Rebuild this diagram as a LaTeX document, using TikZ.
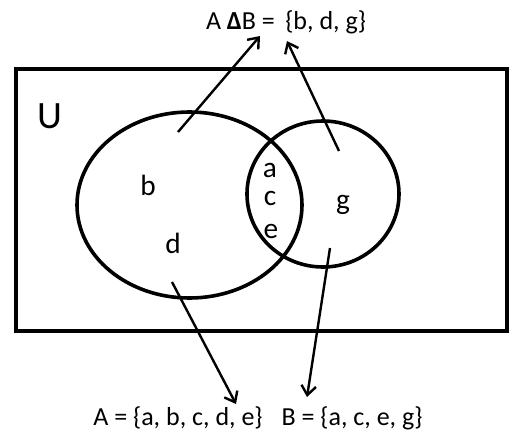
\documentclass[tikz,border=0pt]{standalone}
\usepackage{fontspec}
\setmainfont{Carlito}
\usetikzlibrary{arrows.meta,positioning}
\tikzset{
  univbox/.style={draw=black, line width=3pt},
  setline/.style={draw=black, line width=2.7pt},
  elem/.style={font=\fontsize{22}{24}\selectfont, inner sep=0pt},
  setlabel/.style={font=\fontsize{19.5}{22}\selectfont, inner sep=1pt},
  pointer/.style={-{Straight Barb[length=7pt,width=11pt]}, line width=1.8pt},
}
\begin{document}
\begin{tikzpicture}[x=0.75pt, y=-0.75pt]
  \useasboundingbox (0,0) rectangle (519,447);
  % universe and the two sets
  \draw[univbox] (15.5,68.5) rectangle (507,331);
  \draw[setline] (189.5,205) ellipse [x radius=112.5, y radius=93];
  \draw[setline] (323,194) ellipse [x radius=76, y radius=73];
  \node[font=\fontsize{29}{31}\selectfont, inner sep=0pt] (univ) at (50,116) {U};
  % elements
  \node[elem] (eb) at (148,185) {b};
  \node[elem] (ed) at (173,243) {d};
  \node[elem] (ea) at (270,170) {a};
  \node[elem] (ec) at (270,198) {c};
  \node[elem] (ee) at (271,231) {e};
  \node[elem] (eg) at (343,205) {g};
  % set labels
  \node[setlabel] (symdiff) at (286,22) {A \textbf{Δ}B =\hspace{0.4em}\{b, d, g\}};
  \node[setlabel] (setA) at (178,418) {A = \{a, b, c, d, e\}};
  \node[setlabel] (setB) at (352,418) {B = \{a, c, e, g\}};
  % pointers
  \coordinate (inA) at (178,132);
  \coordinate (inB) at (339,151);
  \coordinate (lowA) at (172,282);
  \coordinate (lowB) at (330,248);
  \coordinate (tipS1) at (260,36);
  \coordinate (tipS2) at (287,41);
  \coordinate (tipA) at (236,404);
  \coordinate (tipB) at (307,397);
  \draw[pointer] (inA) -- (tipS1);
  \draw[pointer] (inB) -- (tipS2);
  \draw[pointer] (lowA) -- (tipA);
  \draw[pointer] (lowB) -- (tipB);
\end{tikzpicture}
\end{document}
